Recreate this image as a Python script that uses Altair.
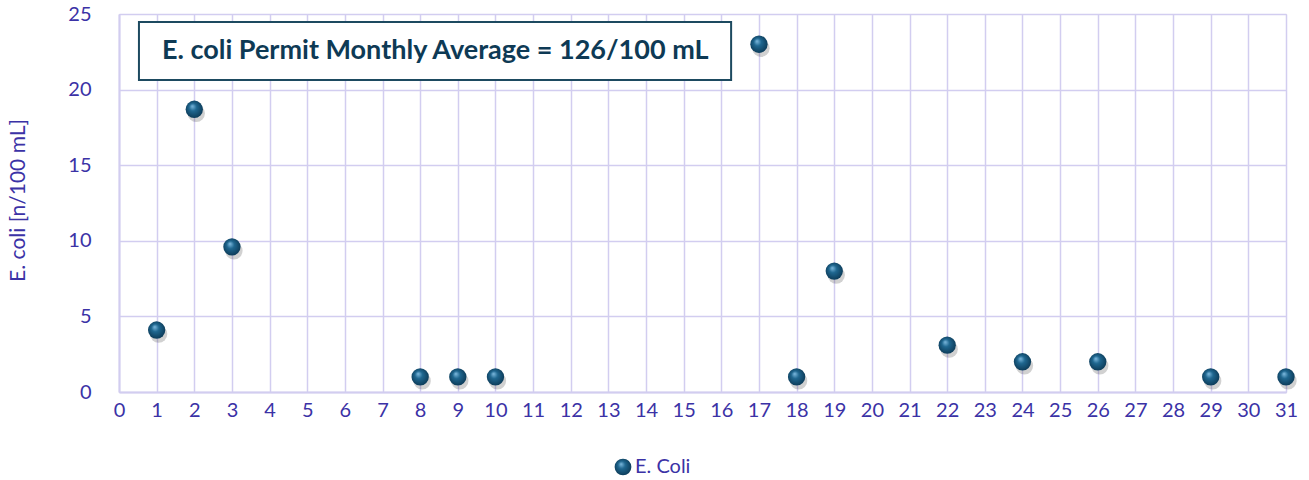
import altair as alt
import pandas as pd

days = [1, 2, 3, 8, 9, 10, 17, 18, 19, 22, 24, 26, 29, 31]
ecoli = [4.1, 18.7, 9.6, 1, 1, 1, 23.0, 1, 8.0, 3.1, 2, 2, 1, 1]
series = ["E. Coli"] * len(days)
x_ticks = list(range(0, 32))
y_ticks = [0, 5, 10, 15, 20, 25]
note_text = ["E. coli Permit Monthly Average = 126/100 mL"]

df = pd.DataFrame({"day": days, "value": ecoli, "series": series})
note = pd.DataFrame({"x": [0.53], "x2": [16.26], "y": [20.63], "y2": [24.47],
                     "xm": [8.4], "ym": [22.55], "text": note_text})

LABEL = "#3b32a6"
GRID = "#d2cdf0"
FONT = "Lato"

xs = alt.Scale(domain=[0, 31], nice=False, zero=False)
ys = alt.Scale(domain=[0, 25], nice=False)

x_axis = alt.Axis(values=x_ticks, title=None, grid=True, gridColor=GRID,
                  gridWidth=1.5, domainColor=GRID, domainWidth=2, ticks=False,
                  labelColor=LABEL, labelFont=FONT, labelFontSize=20,
                  labelPadding=8, format="d", labelOverlap=False, labelFlush=False)
y_axis = alt.Axis(values=y_ticks, title="E. coli [n/100 mL]", grid=True,
                  gridColor=GRID, gridWidth=1.5, domainColor=GRID, domainWidth=2,
                  ticks=False, labelColor=LABEL, labelFont=FONT, labelFontSize=20,
                  labelPadding=28, titleColor=LABEL, titleFont=FONT,
                  titleFontSize=21, titleFontWeight="normal", titleX=-101,
                  titleY=186, titleBaseline="middle", titleAngle=-90,
                  labelOverlap=False, labelFlush=False)

grad = {"gradient": "radial", "x1": 0.38, "y1": 0.32, "r1": 0.0,
        "x2": 0.5, "y2": 0.5, "r2": 0.62,
        "stops": [{"offset": 0, "color": "#7fbbe0"},
                  {"offset": 0.35, "color": "#1f6790"},
                  {"offset": 1, "color": "#08304a"}]}

base = alt.Chart(df).encode(
    x=alt.X("day:Q", scale=xs, axis=x_axis),
    y=alt.Y("value:Q", scale=ys, axis=y_axis),
)

shadow = base.mark_circle(size=300, color="#000000", opacity=0.18, xOffset=2, yOffset=4)

pts = base.mark_point(size=300, filled=True, fill=grad, strokeWidth=0, opacity=1).encode(
    shape=alt.Shape("series:N", scale=alt.Scale(range=["circle"]),
                    legend=alt.Legend(title=None, orient="none", legendX=494, legendY=443,
                                      labelColor=LABEL, labelFont=FONT, labelFontSize=20,
                                      symbolSize=280, symbolFillColor="#1f6790",
                                      symbolStrokeWidth=0, labelOffset=2))
)

box = alt.Chart(note).mark_rect(fill="white", stroke="#1d4a60", strokeWidth=2).encode(
    x=alt.X("x:Q", scale=xs, axis=x_axis), x2="x2:Q",
    y=alt.Y("y:Q", scale=ys, axis=y_axis), y2="y2:Q")
txt = alt.Chart(note).mark_text(font=FONT, fontSize=27, fontWeight="bold",
                                color="#0e3a55").encode(
    x=alt.X("xm:Q", scale=xs, axis=x_axis),
    y=alt.Y("ym:Q", scale=ys, axis=y_axis), text="text:N")

chart = alt.layer(shadow, pts, box, txt).properties(
    width=1167, height=378,
    autosize=alt.AutoSizeParams(type="none"),
    padding={"left": 119, "top": 14, "right": 23, "bottom": 88},
).configure_view(stroke=None).configure(background="white")

chart.save("out.html", embed_options={"renderer": "svg", "actions": False})
